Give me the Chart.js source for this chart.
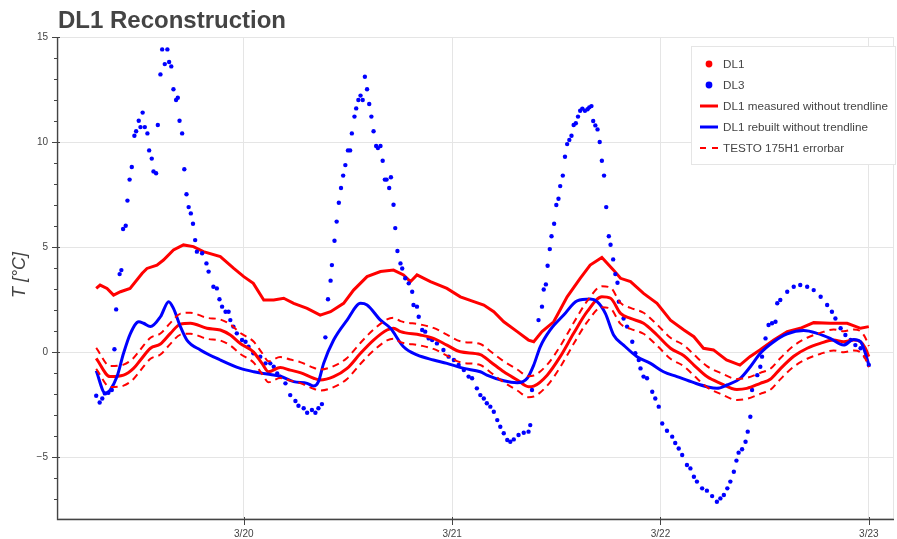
<!DOCTYPE html>
<html>
<head>
<meta charset="utf-8">
<title>DL1 Reconstruction</title>
<script src="https://cdn.jsdelivr.net/npm/chart.js@4/dist/chart.umd.min.js"></script>
<style>
  html, body { margin: 0; padding: 0; background: #ffffff; }
  #wrap { width: 897px; height: 539px; }
</style>
</head>
<body>
<div id="wrap"><canvas id="chart" width="897" height="539"></canvas></div>
<script>
// Time is given in hours since 3/19 00:00, temperatures in °C.

// DL1 raw logger readings
const dl1Hours = [7.0,7.45,8.25,9.0,9.8,10.9,12.3,12.85,14.0,14.75,15.9,17.05,18.2,19.35,21.3,22.85,24.0,25.1,26.3,27.45,28.6,29.75,31.3,32.8,34.0,35.5,36.65,38.2,39.75,41.25,42.4,43.2,43.95,45.5,47.4,48.95,50.5,51.65,52.8,53.95,55.5,56.8,57.4,58.35,59.7,61.25,62.75,63.9,65.25,66.6,67.4,68.55,70.05,71.6,73.15,74.7,75.85,76.95,78.1,79.6,81.15,82.3,83.45,85.05,86.6,88.1,89.65,91.55,93.5,95.05,96.0];
const dl1Temp = [3.03,3.19,3.03,2.71,2.87,3.03,3.75,3.98,4.14,4.38,4.86,5.10,5.02,4.78,4.54,3.98,3.59,3.27,2.48,2.48,2.56,2.32,2.08,1.76,1.92,2.32,2.95,3.59,3.83,3.90,3.67,3.35,3.67,3.35,3.03,2.63,2.40,2.24,1.92,1.44,0.97,0.57,0.49,0.97,1.44,2.63,3.51,4.14,4.50,3.90,3.51,3.35,2.79,2.32,1.52,1.05,0.73,0.18,0.10,-0.38,-0.62,-0.22,0.10,0.57,0.97,1.13,1.40,1.37,1.37,1.13,1.21];

// DL3 logger readings
const dl3Hours = [7.0,7.4,7.7,8.0,8.4,8.8,9.1,9.3,9.7,9.9,
  10.1,10.4,10.6,10.85,11.1,11.4,11.6,11.9,12.1,12.35,
  12.6,12.9,13.1,13.4,13.6,13.9,14.1,14.4,14.6,14.9,
  15.2,15.4,15.65,15.9,16.2,16.4,16.6,16.9,17.15,17.4,
  17.65,17.9,18.15,18.4,18.6,19.2,19.7,19.95,20.5,20.9,
  21.2,21.5,21.9,22.25,22.45,22.8,23.2,23.8,24.2,24.55,
  25.1,25.9,26.5,27.05,27.45,27.85,28.2,28.8,29.35,29.95,
  30.3,30.9,31.3,31.85,32.25,32.6,33.0,33.4,33.7,34.0,
  34.15,34.45,34.7,34.95,35.2,35.45,35.7,36.0,36.25,36.45,
  36.75,36.95,37.2,37.45,37.7,37.95,38.2,38.45,38.7,38.95,
  39.25,39.45,39.75,40.0,40.25,40.45,40.75,40.95,41.25,41.45,
  41.7,42.05,42.25,42.6,43.0,43.4,43.55,43.95,44.15,44.55,
  44.9,45.3,45.7,46.25,47.0,47.6,48.2,48.75,49.35,49.9,
  50.3,50.85,51.25,51.65,52.0,52.4,52.8,53.2,53.55,53.95,
  54.35,54.7,55.1,55.65,56.25,56.8,57.0,57.2,57.95,58.35,
  58.55,58.8,59.0,59.25,59.45,59.75,60.0,60.25,60.45,60.75,
  61.0,61.25,61.5,61.75,62.0,62.25,62.5,62.75,63.0,63.3,
  63.6,63.8,64.05,64.25,64.5,64.75,65.0,65.25,65.5,65.75,
  66.05,66.25,66.55,66.8,67.05,67.2,67.75,68.15,68.75,69.1,
  69.5,69.7,70.05,70.45,71.05,71.4,71.8,72.2,72.75,73.35,
  73.7,74.1,74.5,75.05,75.45,75.85,76.2,76.8,77.35,77.95,
  78.5,78.9,79.3,79.7,80.05,80.45,80.75,81.0,81.4,81.8,
  82.05,82.35,82.55,83.15,83.5,83.7,84.1,84.45,84.85,85.25,
  85.45,85.8,86.6,87.35,88.1,88.9,89.65,90.45,91.2,91.75,
  92.15,92.75,93.3,93.9,94.45,95.05,95.6,96.0];
const dl3Temp = [-2.08,-2.40,-2.21,-1.97,-1.94,-1.81,0.13,2.03,3.71,3.90,
  5.86,6.01,7.21,8.21,8.81,10.30,10.51,11.01,10.71,11.40,
  10.71,10.41,9.60,9.21,8.60,8.51,10.81,13.22,14.41,13.71,
  14.41,13.81,13.60,12.51,12.00,12.11,11.01,10.41,8.70,7.51,
  6.90,6.60,6.11,5.33,4.78,4.70,4.22,3.83,3.11,3.03,
  2.51,2.16,1.92,1.92,1.52,1.21,0.89,0.57,0.49,0.25,
  -0.06,-0.22,-0.54,-0.54,-0.70,-1.02,-1.17,-1.49,-2.05,-2.33,
  -2.56,-2.68,-2.89,-2.76,-2.89,-2.68,-2.48,0.70,2.51,3.40,
  4.14,5.30,6.21,7.11,7.81,8.40,8.90,9.60,9.60,10.41,
  11.21,11.60,12.00,12.21,12.00,13.11,12.51,11.81,11.21,10.51,
  9.81,9.71,9.81,9.11,8.21,8.21,7.81,8.32,7.01,5.90,
  4.81,4.22,3.98,3.51,3.27,2.87,2.24,2.16,1.68,1.05,
  0.97,0.65,0.57,0.41,0.10,-0.22,-0.38,-0.62,-0.86,-1.17,
  -1.25,-1.73,-2.05,-2.21,-2.44,-2.60,-2.84,-3.24,-3.56,-3.87,
  -4.19,-4.27,-4.16,-3.95,-3.84,-3.79,-3.48,-1.81,1.52,2.16,
  2.98,3.22,4.11,4.90,5.51,6.11,7.00,7.30,7.90,8.40,
  9.30,9.90,10.10,10.30,10.81,10.89,11.21,11.49,11.59,11.49,
  11.56,11.65,11.71,11.00,10.79,10.60,10.00,9.11,8.40,6.90,
  5.51,5.11,4.41,3.71,3.30,2.40,1.60,1.21,0.49,-0.06,
  -0.38,-0.78,-1.17,-1.25,-1.89,-2.21,-2.60,-3.40,-3.75,-4.03,
  -4.33,-4.59,-4.90,-5.38,-5.54,-5.94,-6.17,-6.49,-6.60,-6.86,
  -7.13,-6.97,-6.81,-6.49,-6.17,-5.70,-5.17,-4.79,-4.63,-4.27,
  -3.79,-3.08,-1.81,-1.10,-0.70,-0.22,0.65,1.29,1.37,1.44,
  2.32,2.48,2.87,3.11,3.19,3.11,2.95,2.63,2.24,1.92,
  1.60,1.13,0.81,0.57,0.33,0.18,-0.22,-0.62];

// DL1 measured, trend removed
const measuredHours = [7.0,8.6,10.15,11.3,12.1,13.25,14.4,15.55,16.7,17.85,19.75,21.3,22.45,23.6,25.1,26.1,26.85,28.2,29.35,30.5,32.05,32.8,34.35,35.9,37.45,38.95,40.5,41.25,42.05,44.35,45.85,47.4,48.95,51.25,52.4,53.95,55.5,56.8,57.4,58.95,60.45,62.0,63.55,65.25,66.25,67.4,68.55,70.05,71.6,73.15,74.7,75.85,77.35,78.9,80.8,81.95,83.5,84.65,85.8,87.35,88.9,90.4,91.95,93.1,94.25,95.05,95.6,96.0];
const measuredTemp = [-0.30,-1.17,-1.10,-0.78,-0.38,0.18,0.38,0.89,1.33,1.37,1.13,1.05,0.81,0.41,0.01,-0.54,-0.94,-0.74,-0.86,-0.98,-1.25,-1.33,-1.17,-0.78,-0.06,0.57,1.05,1.13,0.97,0.81,0.65,0.33,0.01,-0.12,-0.46,-0.94,-1.33,-1.65,-1.62,-1.10,-0.22,0.89,1.92,2.63,2.56,1.84,1.60,1.37,0.81,0.18,-0.18,-0.62,-1.17,-1.49,-1.78,-1.73,-1.49,-1.30,-0.80,-0.20,0.18,0.41,0.57,0.49,0.57,0.49,0.18,-0.22];

// DL1 rebuilt from DL3, trend removed
const rebuiltHours = [7.0,8.05,8.6,9.4,10.15,10.95,11.9,12.45,13.25,14.4,15.35,15.9,16.7,17.45,19.0,21.3,23.6,25.15,26.7,28.2,29.75,31.3,32.05,32.6,33.2,34.35,35.9,37.45,38.2,39.75,40.9,42.4,43.95,45.85,47.4,49.35,51.25,52.0,53.95,55.5,56.65,57.4,58.15,59.3,60.85,62.4,63.9,64.7,65.65,66.6,67.75,69.3,70.85,72.35,73.9,75.85,77.35,78.5,79.65,81.2,82.35,83.5,85.05,86.6,88.5,90.05,91.55,93.1,94.25,95.05,95.6,96.0];
const rebuiltTemp = [-0.89,-1.97,-1.81,-1.17,-0.06,0.89,1.44,1.37,1.21,1.68,2.40,2.08,1.21,0.57,0.10,-0.38,-0.78,-0.94,-1.05,-1.15,-1.41,-1.49,-1.62,-1.41,-0.54,0.57,1.52,2.32,2.24,1.52,1.13,0.25,-0.14,-0.38,-0.54,-0.78,-0.94,-1.10,-1.37,-1.46,-1.25,-0.62,0.25,1.05,1.76,2.44,2.52,2.40,1.84,0.81,0.33,-0.22,-0.54,-0.94,-1.17,-1.46,-1.65,-1.73,-1.57,-1.25,-0.70,-0.06,0.49,0.86,1.02,0.89,0.65,0.33,0.60,0.49,-0.06,-0.62];

// TESTO 175H1 accuracy band around the measured curve
const TESTO_ACCURACY = 0.5;

// Axis ticks
const dayTickHours = [24, 48, 72, 96];
const dayTickLabels = ['3/20', '3/21', '3/22', '3/23'];
const tempTicks = [-5, 0, 5, 10, 15];

const FONT = "'Liberation Sans', Arial, Helvetica, sans-serif";
const TEXT = '#444444';
const GRID = '#e5e5e5';
const RED = '#ff0000';
const BLUE = '#0000ff';

const toPoints = (hours, temps) => hours.map((h, i) => ({ x: h, y: temps[i] }));

const legendItems = [
  { label: 'DL1', kind: 'dot', color: RED },
  { label: 'DL3', kind: 'dot', color: BLUE },
  { label: 'DL1 measured without trendline', kind: 'line', color: RED },
  { label: 'DL1 rebuilt without trendline', kind: 'line', color: BLUE },
  { label: 'TESTO 175H1 errorbar', kind: 'dash', color: RED }
];

const decorations = {
  id: 'decorations',
  beforeDatasetsDraw(chart) {
    const { ctx, chartArea: a } = chart;
    ctx.save();
    ctx.strokeStyle = GRID;
    ctx.lineWidth = 1;
    ctx.strokeRect(a.left + 0.5, a.top + 0.5, a.right - a.left - 1, a.bottom - a.top - 1);
    ctx.restore();
  },
  afterDraw(chart) {
    const { ctx, chartArea: a, scales } = chart;
    const xs = scales.x, ys = scales.y;
    ctx.save();

    // axis lines
    ctx.strokeStyle = TEXT;
    ctx.lineWidth = 1.3;
    ctx.beginPath();
    ctx.moveTo(a.left - 0.5, a.top);
    ctx.lineTo(a.left - 0.5, a.bottom + 0.5);
    ctx.lineTo(a.right, a.bottom + 0.5);
    ctx.stroke();

    // y ticks: major every 5, minor every 1
    ctx.lineWidth = 1;
    ctx.beginPath();
    for (let v = -7; v <= 15; v++) {
      const y = Math.round(ys.getPixelForValue(v)) + 0.5;
      const major = tempTicks.includes(v);
      ctx.moveTo(a.left - (major ? 6 : 4), y);
      ctx.lineTo(a.left + (major ? 2 : 0), y);
    }
    // x ticks at day boundaries
    dayTickHours.forEach(h => {
      const x = Math.round(xs.getPixelForValue(h)) + 0.5;
      ctx.moveTo(x, a.bottom - 2);
      ctx.lineTo(x, a.bottom + 6);
    });
    ctx.stroke();

    // title
    ctx.fillStyle = TEXT;
    ctx.font = 'bold 24px ' + FONT;
    ctx.textAlign = 'left';
    ctx.textBaseline = 'alphabetic';
    ctx.fillText('DL1 Reconstruction', a.left, 28);

    // y axis title
    ctx.save();
    ctx.translate(20, (a.top + a.bottom) / 2 - 3);
    ctx.rotate(-Math.PI / 2);
    ctx.font = 'italic 18px ' + FONT;
    ctx.textAlign = 'center';
    ctx.textBaseline = 'middle';
    ctx.fillText('T [°C]', 0, 0);
    ctx.restore();

    // legend
    const bx = 691.5, by = 46.5, bw = 204, bh = 118;
    ctx.fillStyle = '#ffffff';
    ctx.fillRect(bx, by, bw, bh);
    ctx.strokeStyle = GRID;
    ctx.lineWidth = 1;
    ctx.strokeRect(bx, by, bw, bh);
    ctx.font = '11.7px ' + FONT;
    ctx.textBaseline = 'middle';
    legendItems.forEach((it, i) => {
      const y = 64 + i * 21;
      if (it.kind === 'dot') {
        ctx.fillStyle = it.color;
        ctx.beginPath();
        ctx.arc(709, y, 3.4, 0, Math.PI * 2);
        ctx.fill();
      } else {
        ctx.strokeStyle = it.color;
        ctx.lineWidth = it.kind === 'dash' ? 2 : 3;
        ctx.setLineDash(it.kind === 'dash' ? [6, 6] : []);
        ctx.beginPath();
        ctx.moveTo(700, y);
        ctx.lineTo(718, y);
        ctx.stroke();
        ctx.setLineDash([]);
      }
      ctx.fillStyle = TEXT;
      ctx.fillText(it.label, 723, y + 0.5);
    });
    ctx.restore();
  }
};

const lineStyle = {
  showLine: true,
  pointRadius: 0,
  pointHoverRadius: 0,
  cubicInterpolationMode: 'monotone',
  fill: false
};

new Chart(document.getElementById('chart'), {
  type: 'scatter',
  data: {
    datasets: [
      Object.assign({
        label: 'TESTO 175H1 errorbar',
        data: toPoints(measuredHours, measuredTemp.map(v => v + TESTO_ACCURACY)),
        borderColor: RED, borderWidth: 2, borderDash: [7, 5]
      }, lineStyle),
      Object.assign({
        label: 'TESTO 175H1 errorbar (lower)',
        data: toPoints(measuredHours, measuredTemp.map(v => v - TESTO_ACCURACY)),
        borderColor: RED, borderWidth: 2, borderDash: [7, 5]
      }, lineStyle),
      Object.assign({
        label: 'DL1 rebuilt without trendline',
        data: toPoints(rebuiltHours, rebuiltTemp),
        borderColor: BLUE, borderWidth: 3
      }, lineStyle),
      Object.assign({
        label: 'DL1 measured without trendline',
        data: toPoints(measuredHours, measuredTemp),
        borderColor: RED, borderWidth: 3
      }, lineStyle),
      {
        label: 'DL3',
        data: toPoints(dl3Hours, dl3Temp),
        showLine: false,
        pointRadius: 2.2,
        pointHoverRadius: 2.2,
        pointBackgroundColor: BLUE,
        pointBorderWidth: 0,
        borderColor: BLUE
      },
      {
        label: 'DL1',
        data: toPoints(dl1Hours, dl1Temp),
        showLine: true,
        tension: 0,
        borderColor: RED,
        borderWidth: 3,
        pointRadius: 0,
        pointHoverRadius: 0
      }
    ]
  },
  options: {
    responsive: false,
    animation: false,
    devicePixelRatio: 1,
    events: [],
    layout: { padding: { top: 37, right: 3, bottom: 0, left: 0 } },
    plugins: {
      legend: { display: false },
      title: { display: false },
      tooltip: { enabled: false }
    },
    scales: {
      x: {
        type: 'linear',
        min: 2.6,
        max: 98.9,
        afterFit(scale) { scale.height = 20; },
        afterBuildTicks(scale) { scale.ticks = dayTickHours.map(v => ({ value: v })); },
        grid: { color: GRID, lineWidth: 1, drawTicks: false },
        border: { display: false },
        ticks: {
          padding: 9,
          maxRotation: 0,
          autoSkip: false,
          color: TEXT,
          font: { family: FONT, size: 10 },
          callback: v => dayTickLabels[dayTickHours.indexOf(v)] || ''
        }
      },
      y: {
        type: 'linear',
        min: -7.95,
        max: 15,
        afterFit(scale) { scale.width = 58; },
        afterBuildTicks(scale) { scale.ticks = tempTicks.map(v => ({ value: v })); },
        grid: { color: GRID, lineWidth: 1, drawTicks: false },
        border: { display: false },
        ticks: {
          padding: 10,
          color: TEXT,
          font: { family: FONT, size: 10 },
          callback: v => (v < 0 ? '\u2212' + Math.abs(v) : String(v))
        }
      }
    }
  },
  plugins: [decorations]
});
</script>
</body>
</html>
